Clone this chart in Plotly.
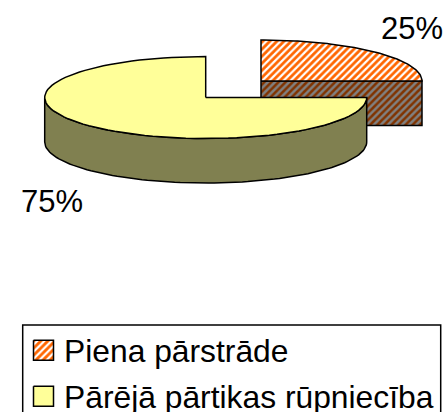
import numpy as np
import plotly.graph_objects as go

categories = ["Piena pārstrāde", "Pārējā pārtikas rūpniecība"]
shares = [25, 75]

W, H = 448, 412
RX, RY, DEPTH = 161, 41, 44.5
CENTERS = [(261, 81), (205.7, 97.5)]
TOP_STYLE = [
    dict(fillpattern=dict(shape="/", fgcolor="#ff6600", bgcolor="#ffffff", size=5, solidity=0.55,
                          fgopacity=1, fillmode="replace")),
    dict(fillcolor="#ffff99"),
]
SIDE_STYLE = [
    dict(fillpattern=dict(shape="/", fgcolor="#803300", bgcolor="#808080", size=5, solidity=0.5,
                          fgopacity=1, fillmode="replace")),
    dict(fillcolor="#808050"),
]
OUTLINE = dict(color="#000000", width=1.5)


def arc(cx, cy, a0, a1):
    t = np.radians(np.linspace(a0, a1, 90))
    return cx + RX * np.sin(t), cy - RY * np.cos(t)


def poly(xs, ys, style, **kw):
    return go.Scatter(
        x=list(xs), y=list(ys), mode="lines", fill="toself", line=OUTLINE,
        hoverinfo="skip", showlegend=False, **style, **kw
    )


fig = go.Figure()
start = 0
for i, share in enumerate(shares):
    cx, cy = CENTERS[i]
    end = start + share * 3.6
    # side wall: the part of the rim that faces the viewer
    a0, a1 = max(start, 90), min(end, 270)
    if a1 > a0:
        xs, ys = arc(cx, cy, a0, a1)
        fig.add_trace(poly(np.r_[xs, xs[::-1], xs[0]],
                           np.r_[ys, ys[::-1] + DEPTH, ys[0]], SIDE_STYLE[i]))
    # cut face of a wedge whose radial edge points at the viewer's right
    if end == 90:
        xe, ye = arc(cx, cy, end, end)
        fig.add_trace(poly([cx, xe[0], xe[0], cx, cx],
                           [cy, ye[0], ye[0] + DEPTH, cy + DEPTH, cy], SIDE_STYLE[i]))
    # top face
    xs, ys = arc(cx, cy, start, end)
    fig.add_trace(poly(np.r_[cx, xs, cx], np.r_[cy, ys, cy], TOP_STYLE[i]))
    start = end

# legend frame and entries
fig.add_shape(type="rect", x0=22.7, x1=440.7, y0=325, y1=420, xref="x", yref="y",
              line=dict(color="#000000", width=1.5), fillcolor="#ffffff", layer="below")
SWATCH_Y = [350.3, 396.3]
TEXT_Y = [350.5, 396.5]
for i, name in enumerate(categories):
    y = SWATCH_Y[i]
    fig.add_trace(poly([33.5, 53.5, 53.5, 33.5, 33.5],
                       [y - 10, y - 10, y + 10, y + 10, y - 10], TOP_STYLE[i]))
    fig.add_annotation(x=62, y=TEXT_Y[i], xref="x", yref="y", text=name, showarrow=False,
                       xanchor="left", yanchor="middle", font=dict(size=31.8, color="#000000"))

LABEL_POS = [(412, 28.5), (52, 201)]
for share, (x, y) in zip(shares, LABEL_POS):
    fig.add_annotation(x=x, y=y, xref="x", yref="y", text=f"{share}%", showarrow=False,
                       xanchor="center", yanchor="middle", font=dict(size=31, color="#000000"))

fig.update_layout(
    width=W, height=H, margin=dict(l=0, r=0, t=0, b=0),
    paper_bgcolor="#ffffff", plot_bgcolor="#ffffff", showlegend=False,
    font=dict(family="Liberation Sans, Arial, sans-serif"),
    xaxis=dict(range=[0, W], visible=False, fixedrange=True),
    yaxis=dict(range=[H, 0], visible=False, fixedrange=True),
)
fig.write_html("out.html", config=dict(displayModeBar=False),
               post_script="document.body.style.margin='0';document.body.style.overflow='hidden';")
